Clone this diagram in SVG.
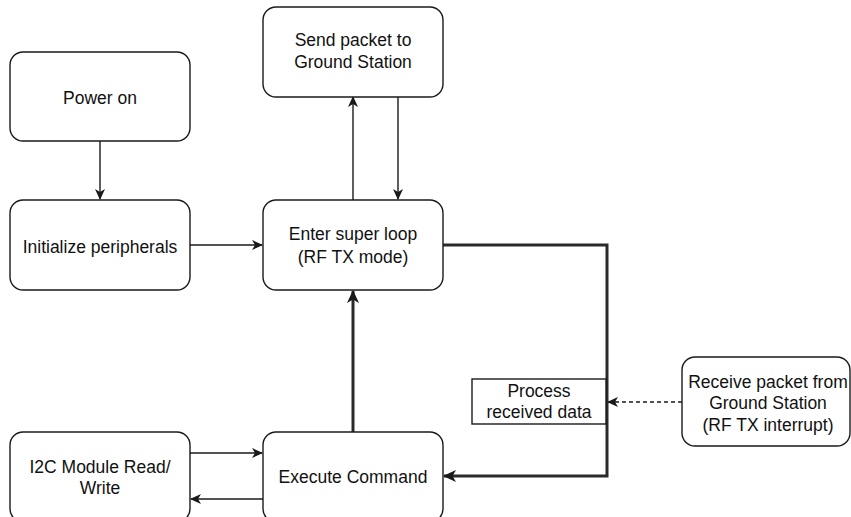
<svg xmlns="http://www.w3.org/2000/svg" width="851" height="517" viewBox="0 0 851 517">
  <style>
    .box { fill: #ffffff; stroke: #1a1a1a; stroke-width: 1.4; }
    .lbl { font-family: "Liberation Sans", Arial, sans-serif; font-size: 17.5px; fill: #111111; text-anchor: middle; }
    .ln { fill: none; stroke: #1a1a1a; stroke-width: 1.4; }
    .thick { fill: none; stroke: #2a2a2a; stroke-width: 3; }
    .dash { fill: none; stroke: #1a1a1a; stroke-width: 1.4; stroke-dasharray: 4 3; }
  </style>
  <defs>
    <marker id="arr" markerWidth="12" markerHeight="10" refX="10" refY="5" orient="auto" markerUnits="userSpaceOnUse">
      <path d="M0,0 L11,5 L0,10 L3,5 z" fill="#1a1a1a"/>
    </marker>
    <marker id="arrT" markerWidth="14" markerHeight="12" refX="12" refY="6" orient="auto" markerUnits="userSpaceOnUse">
      <path d="M0,0 L13,6 L0,12 L3.5,6 z" fill="#1a1a1a"/>
    </marker>
  </defs>
  <rect width="851" height="517" fill="#ffffff"/>

  <g id="connectors">
    <path class="ln" d="M100,141 V199" marker-end="url(#arr)"/>
    <path class="ln" d="M190,245 H262" marker-end="url(#arr)"/>
    <path class="ln" d="M353,200 V97" marker-end="url(#arr)"/>
    <path class="ln" d="M398,97 V199" marker-end="url(#arr)"/>
    <path class="thick" d="M353,432 V291" marker-end="url(#arrT)"/>
    <path class="thick" d="M443,245 H607 V476 H444" marker-end="url(#arrT)"/>
    <path class="dash" d="M682,402 H608" marker-end="url(#arr)"/>
    <path class="ln" d="M190,453 H262" marker-end="url(#arr)"/>
    <path class="ln" d="M263,499 H191" marker-end="url(#arr)"/>
  </g>

  <g id="power-on">
    <rect class="box" x="10" y="52" width="180" height="89" rx="13"/>
    <text class="lbl" x="100" y="104">Power on</text>
  </g>
  <g id="init-peripherals">
    <rect class="box" x="10" y="200" width="180" height="90" rx="13"/>
    <text class="lbl" x="100" y="253">Initialize peripherals</text>
  </g>
  <g id="send-packet">
    <rect class="box" x="263" y="7" width="180" height="90" rx="13"/>
    <text class="lbl" x="353" y="46">Send packet to</text>
    <text class="lbl" x="353" y="68">Ground Station</text>
  </g>
  <g id="super-loop">
    <rect class="box" x="263" y="200" width="180" height="90" rx="13"/>
    <text class="lbl" x="353" y="240">Enter super loop</text>
    <text class="lbl" x="353" y="263">(RF TX mode)</text>
  </g>
  <g id="process-data">
    <rect class="box" x="472" y="379" width="134" height="45"/>
    <text class="lbl" x="539" y="397">Process</text>
    <text class="lbl" x="539" y="418">received data</text>
  </g>
  <g id="receive-packet">
    <rect class="box" x="682" y="357" width="168" height="89" rx="13"/>
    <text class="lbl" x="768" y="388">Receive packet from</text>
    <text class="lbl" x="768" y="409">Ground Station</text>
    <text class="lbl" x="768" y="431">(RF TX interrupt)</text>
  </g>
  <g id="i2c-module">
    <rect class="box" x="10" y="432" width="180" height="90" rx="13"/>
    <text class="lbl" x="100" y="473">I2C Module Read/</text>
    <text class="lbl" x="100" y="494">Write</text>
  </g>
  <g id="execute-command">
    <rect class="box" x="263" y="432" width="180" height="90" rx="13"/>
    <text class="lbl" x="353" y="483">Execute Command</text>
  </g>
</svg>
